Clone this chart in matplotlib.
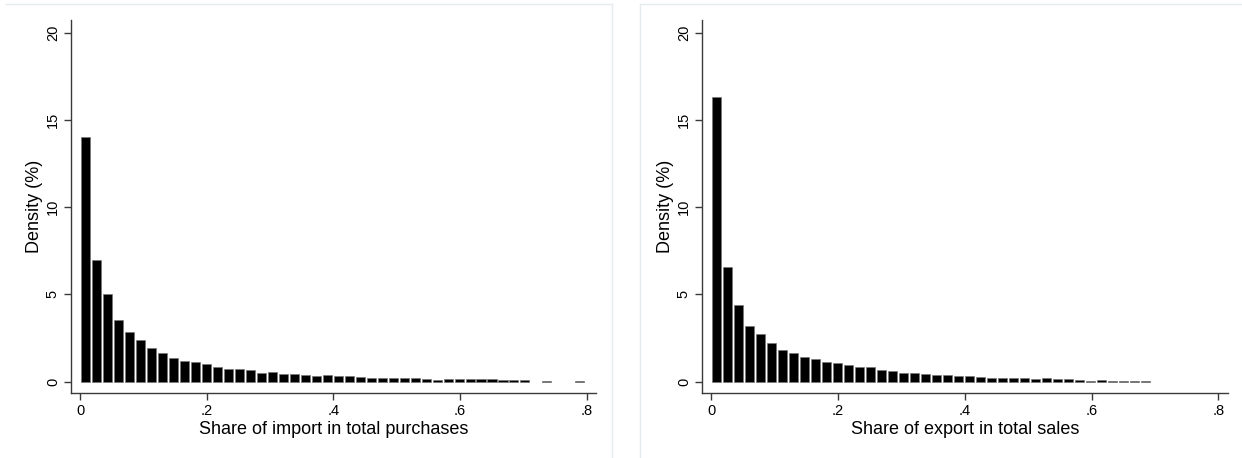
import matplotlib
matplotlib.use("Agg")
import matplotlib.pyplot as plt
from matplotlib.lines import Line2D
import numpy as np

plt.rcParams['font.family'] = ['Liberation Sans', 'DejaVu Sans']

# ---- data ----
bin_width = 0.01737
import_density = [14.0, 7.0, 5.02, 3.55, 2.86, 2.39, 1.91, 1.66, 1.37, 1.20,
                  1.11, 0.99, 0.84, 0.73, 0.73, 0.65, 0.50, 0.56, 0.46, 0.46,
                  0.36, 0.33, 0.38, 0.31, 0.34, 0.25, 0.23, 0.23, 0.21, 0.23,
                  0.21, 0.17, 0.11, 0.17, 0.15, 0.15, 0.15, 0.13, 0.08, 0.08,
                  0.08, 0.0, 0.06, 0.0, 0.0, 0.05]
export_density = [16.3, 6.55, 4.39, 3.21, 2.73, 2.22, 1.80, 1.62, 1.41, 1.28,
                  1.13, 1.07, 0.94, 0.82, 0.82, 0.69, 0.59, 0.52, 0.48, 0.42,
                  0.36, 0.36, 0.31, 0.31, 0.25, 0.23, 0.23, 0.21, 0.21, 0.15,
                  0.19, 0.15, 0.17, 0.11, 0.06, 0.11, 0.06, 0.06, 0.06, 0.06]
x_ticks = [0, 0.2, 0.4, 0.6, 0.8]
x_ticklabels = ["0", ".2", ".4", ".6", ".8"]
y_ticks = [0, 5, 10, 15, 20]
y_ticklabels = ["0", "5", "10", "15", "20"]
xlabels = ["Share of import in total purchases", "Share of export in total sales"]
ylabel = "Density (%)"

W, H = 1242, 458
fig = plt.figure(figsize=(W / 100, H / 100), dpi=100)

axes_px = [(71, 596), (702, 1228)]
top_px, bot_px = 20, 392.7
series = [import_density, export_density]
axis_color = "#3a3a3a"

for (x0, x1), vals, xl in zip(axes_px, series, xlabels):
    ax = fig.add_axes([x0 / W, 1 - bot_px / H, (x1 - x0) / W, (bot_px - top_px) / H])
    v = np.asarray(vals)
    lefts = np.arange(len(v)) * bin_width
    keep = v > 0
    ax.bar(lefts[keep] + bin_width * 0.05, v[keep], width=bin_width * 0.82, align='edge',
           color='black', edgecolor='#777777', linewidth=0.5)
    ax.set_xlim(-0.0145, 0.815)
    ax.set_ylim(-0.63, 20.72)
    ax.spines['top'].set_visible(False)
    ax.spines['right'].set_visible(False)
    for s in ('left', 'bottom'):
        ax.spines[s].set_color(axis_color)
        ax.spines[s].set_linewidth(1.0)
    ax.set_xticks(x_ticks)
    ax.set_xticklabels(x_ticklabels, fontsize=10.5)
    ax.set_yticks(y_ticks)
    ax.set_yticklabels(y_ticklabels, fontsize=10.5, rotation=90, va='center')
    ax.tick_params(direction='out', length=5, width=1.0, color=axis_color, pad=3)
    ax.set_xlabel(xl, fontsize=13, labelpad=2)
    ax.set_ylabel(ylabel, fontsize=13, labelpad=2)
    ax.patch.set_alpha(0)

# faint panel borders
bc = "#e4ecef"
for (a, b) in [((6, 4), (612, 4)), ((612, 4), (612, 458)),
               ((640, 4), (1242, 4)), ((640, 4), (640, 458))]:
    fig.add_artist(Line2D([a[0] / W, b[0] / W], [1 - a[1] / H, 1 - b[1] / H],
                          color=bc, linewidth=1.0))

fig.savefig("out.png", dpi=100, facecolor="white")
